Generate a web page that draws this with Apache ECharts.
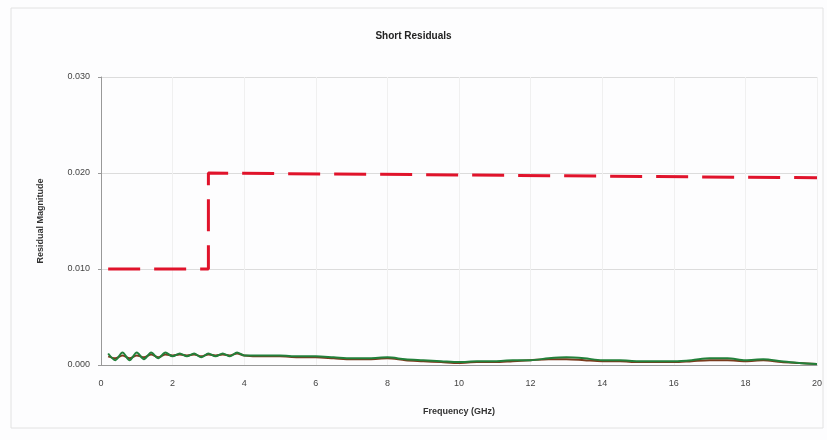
<!DOCTYPE html>
<html>
<head>
<meta charset="utf-8">
<script src="https://cdn.jsdelivr.net/npm/echarts@6/dist/echarts.min.js"></script>
<style>
  html, body { margin: 0; padding: 0; background: #fff; }
  #chart { width: 827px; height: 440px; }
</style>
</head>
<body>
<div id="chart"></div>
<script>
// frequency points (GHz)
const freq = [
  0.2, 0.4, 0.6, 0.8, 1.0, 1.2, 1.4, 1.6, 1.8, 2.0,
  2.2, 2.4, 2.6, 2.8, 3.0, 3.2, 3.4, 3.6, 3.8, 4.0,
  4.5, 5, 5.5, 6, 6.5, 7, 7.5, 8, 8.5, 9, 9.5, 10,
  10.5, 11, 11.5, 12, 12.5, 13, 13.5, 14, 14.5, 15, 15.5, 16,
  16.5, 17, 17.5, 18, 18.5, 19, 19.5, 20
];
// residual curves
const residualA = [
  0.0009, 0.0007, 0.0010, 0.0007, 0.0010, 0.0008, 0.0011, 0.0008, 0.0011, 0.0010,
  0.0011, 0.0010, 0.0011, 0.0009, 0.0011, 0.0010, 0.0011, 0.0010, 0.0012, 0.0010,
  0.0009, 0.0009, 0.0008, 0.0008, 0.0007, 0.0006, 0.0006, 0.0007, 0.0005, 0.0004, 0.0003, 0.0002,
  0.0003, 0.0003, 0.0004, 0.0005, 0.0006, 0.0006, 0.0005, 0.0004, 0.0004, 0.0003, 0.0003, 0.0003,
  0.0004, 0.0005, 0.0005, 0.0004, 0.0005, 0.0003, 0.0002, 0.0001
];
const residualB = [
  0.0012, 0.0005, 0.0013, 0.0005, 0.0013, 0.0006, 0.0013, 0.0007, 0.0013, 0.0009,
  0.0012, 0.0009, 0.0012, 0.0008, 0.0012, 0.0009, 0.0012, 0.0009, 0.0013, 0.0010,
  0.0010, 0.0010, 0.0009, 0.0009, 0.0008, 0.0007, 0.0007, 0.0008, 0.0006, 0.0005, 0.0004, 0.0003,
  0.0004, 0.0004, 0.0005, 0.0005, 0.0007, 0.0008, 0.0007, 0.0005, 0.0005, 0.0004, 0.0004, 0.0004,
  0.0005, 0.0007, 0.0007, 0.0005, 0.0006, 0.0004, 0.0002, 0.0001
];
// spec limit
const limitFreq = [0.2, 3, 3, 20];
const limitVal = [0.010, 0.010, 0.020, 0.0195];

const pair = (xs, ys) => xs.map((x, i) => [x, ys[i]]);

const chart = echarts.init(document.getElementById('chart'));
const font = 'Liberation Sans, Arial, sans-serif';

chart.setOption({
  backgroundColor: '#fdfdfe',
  animation: false,
  title: {
    text: 'Short Residuals',
    left: 'center',
    top: 26,
    textStyle: { fontFamily: font, fontSize: 10, fontWeight: 'bold', color: '#222' }
  },
  graphic: [{
    type: 'rect',
    shape: { x: 11, y: 8, width: 812, height: 420 },
    style: { fill: 'none', stroke: '#e2e2e2', lineWidth: 1 }
  }],
  grid: { left: 101, right: 10, top: 77, bottom: 75 },
  xAxis: {
    type: 'value',
    min: 0, max: 20, interval: 2,
    name: 'Frequency (GHz)',
    nameLocation: 'middle',
    nameGap: 42,
    nameTextStyle: { fontFamily: font, fontSize: 9, fontWeight: 'bold', color: '#333' },
    axisLine: { lineStyle: { color: '#999' } },
    axisTick: { show: false },
    axisLabel: { fontFamily: font, fontSize: 9, color: '#444', margin: 14 },
    splitLine: { show: true, lineStyle: { color: '#f0f0f0' } }
  },
  yAxis: {
    type: 'value',
    min: 0, max: 0.03, interval: 0.01,
    name: 'Residual Magnitude',
    nameLocation: 'middle',
    nameGap: 56,
    nameTextStyle: { fontFamily: font, fontSize: 9, fontWeight: 'bold', color: '#333' },
    axisLine: { show: true, lineStyle: { color: '#999' } },
    axisTick: { show: true, length: 3, lineStyle: { color: '#999' } },
    axisLabel: {
      fontFamily: font, fontSize: 9, color: '#444', margin: 11,
      formatter: v => v.toFixed(3)
    },
    splitLine: { lineStyle: { color: '#dcdcdc' } }
  },
  series: [
    {
      type: 'line',
      data: pair(limitFreq, limitVal),
      showSymbol: false,
      lineStyle: { color: '#e0132b', width: 3, type: [32, 14] }
    },
    {
      type: 'line',
      data: pair(freq, residualA),
      showSymbol: false,
      smooth: 0.3,
      lineStyle: { color: '#7a3a1c', width: 2 }
    },
    {
      type: 'line',
      data: pair(freq, residualB),
      showSymbol: false,
      smooth: 0.3,
      lineStyle: { color: '#22803a', width: 2 }
    }
  ]
});
</script>
</body>
</html>
